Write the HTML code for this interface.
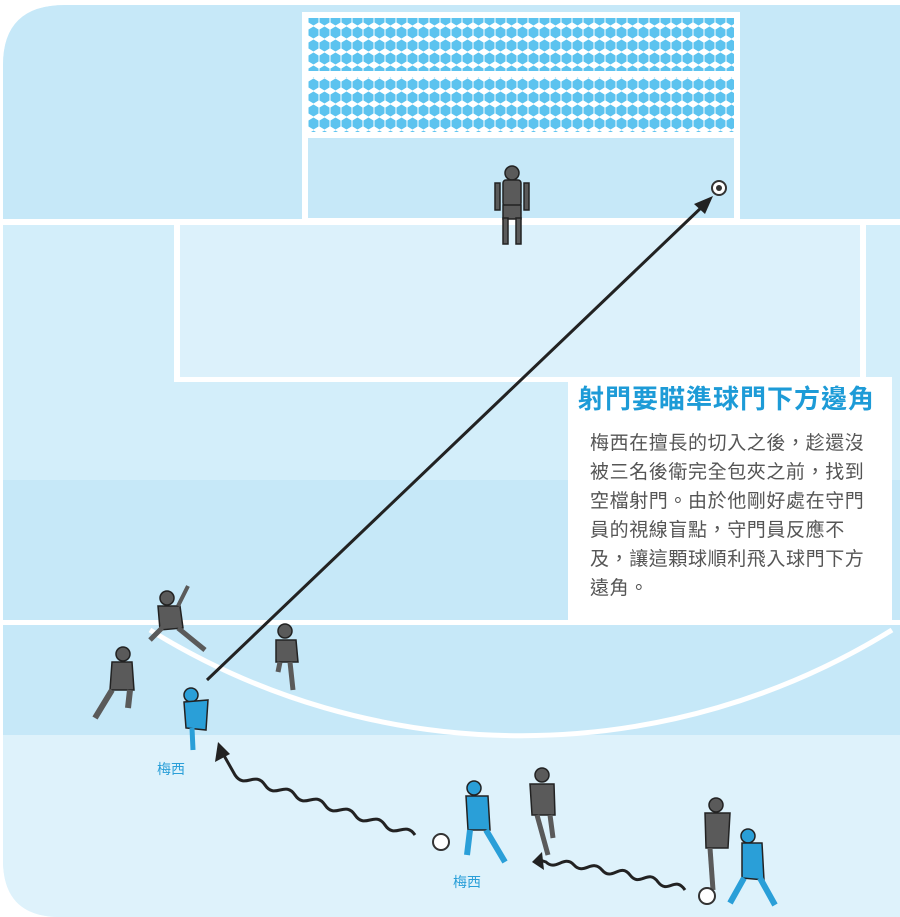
<!DOCTYPE html>
<html><head><meta charset="utf-8"><style>
html,body{margin:0;padding:0;background:#fff;}
svg{display:block;}
.t{font-family:"Liberation Sans","Noto Sans CJK TC",sans-serif;}
</style></head><body>
<svg width="900" height="917" viewBox="0 0 900 917" xmlns="http://www.w3.org/2000/svg">
<defs>
<pattern id="hex" width="11" height="13" patternUnits="userSpaceOnUse">
<rect width="11" height="13" fill="#ffffff"/>
<path d="M5.5 0.5 L10.5 3.5 L10.5 9.5 L5.5 12.5 L0.5 9.5 L0.5 3.5 Z" fill="#5cc3ef"/>
</pattern>
<clipPath id="field"><path d="M65 5 H900 V917 H60 Q3 917 3 860 V65 Q3 5 65 5 Z"/></clipPath>
</defs>
<g clip-path="url(#field)">
<rect x="0" y="0" width="900" height="917" fill="#def2fb"/>
<rect x="0" y="0" width="900" height="220" fill="#c6e8f8"/>
<rect x="0" y="225" width="900" height="255" fill="#d3eefa"/>
<rect x="0" y="480" width="900" height="142" fill="#c6e8f8"/>
<rect x="0" y="624" width="900" height="111" fill="#c6e8f8"/>
<rect x="0" y="735" width="900" height="182" fill="#def2fb"/>
<rect x="0" y="219" width="900" height="6" fill="#fff"/>
<rect x="174" y="222" width="692" height="160" fill="#fff"/>
<rect x="180" y="225" width="680" height="152" fill="#dcf1fb"/>
<rect x="0" y="620" width="900" height="5" fill="#fff"/>
<path d="M150 630 A704 704 0 0 0 892 630" fill="none" stroke="#fff" stroke-width="5"/>
</g>
<!-- goal -->
<rect x="302" y="12" width="438" height="210" fill="#fff"/>
<rect x="308" y="18" width="426" height="53" fill="url(#hex)"/>
<rect x="308" y="77" width="426" height="55" fill="url(#hex)"/>
<rect x="308" y="138" width="426" height="80" fill="#c6e8f8"/>
<!-- text box -->
<rect x="568" y="377" width="324" height="243" fill="#fff"/>
<text x="578" y="408" class="t" font-size="26" font-weight="bold" fill="#1d9bd7" letter-spacing="1">射門要瞄準球門下方邊角</text>
<g class="t" font-size="19" fill="#555" letter-spacing="0.6">
<text x="590" y="449">梅西在擅長的切入之後，趁還沒</text>
<text x="590" y="478">被三名後衛完全包夾之前，找到</text>
<text x="590" y="507">空檔射門。由於他剛好處在守門</text>
<text x="590" y="536">員的視線盲點，守門員反應不</text>
<text x="590" y="565">及，讓這顆球順利飛入球門下方</text>
<text x="590" y="594">遠角。</text>
</g>
<!-- shot line -->
<line x1="207" y1="680" x2="704" y2="205" stroke="#222" stroke-width="3"/>
<path d="M713 196 L694 204 L705 214 Z" fill="#222"/>
<circle cx="719" cy="188" r="7" fill="#fff" stroke="#333" stroke-width="2"/><circle cx="719" cy="188" r="3" fill="#333"/>
<!-- wavy arrows -->
<path d="M415 835 C405 820 395 840 385 825 C375 810 365 830 355 815 C345 800 335 820 325 805 C315 790 305 810 295 795 C285 780 275 800 265 785 C255 770 245 790 235 775 L222 752" fill="none" stroke="#222" stroke-width="3"/>
<path d="M218 742 L215 762 L230 754 Z" fill="#222"/>
<path d="M685 890 C675 875 668 895 658 882 C648 868 640 888 630 875 C620 862 612 882 602 870 C592 858 584 876 574 865 C564 854 556 872 546 862 L540 860" fill="none" stroke="#222" stroke-width="3"/>
<path d="M532 862 L542 852 L544 870 Z" fill="#222"/>
<!-- players (simplified) -->
<g fill="#5a5a5a" stroke="#222" stroke-width="1.5">
<circle cx="512" cy="173" r="7"/><rect x="503" y="180" width="18" height="26" rx="3"/><rect x="503" y="205" width="18" height="14"/><rect x="503" y="218" width="5" height="26"/><rect x="516" y="218" width="5" height="26"/><rect x="495" y="183" width="5" height="27"/><rect x="524" y="183" width="5" height="27"/>
<circle cx="167" cy="598" r="7"/><path d="M158 606 L180 606 L183 628 L160 630 Z"/><path d="M162 628 L150 640 M178 628 L205 650" stroke-width="5" fill="none" stroke="#5a5a5a"/><path d="M178 606 L188 586" stroke-width="4" stroke="#5a5a5a"/>
<circle cx="123" cy="654" r="7"/><path d="M112 662 L132 662 L134 690 L110 690 Z"/><path d="M112 690 L95 718 M130 690 L128 708" stroke-width="6" fill="none" stroke="#5a5a5a"/>
<circle cx="285" cy="631" r="7"/><path d="M276 640 L296 640 L298 662 L276 662 Z"/><path d="M290 662 L293 690 M280 662 L278 672" stroke-width="5" fill="none" stroke="#5a5a5a"/>
<circle cx="542" cy="775" r="7"/><path d="M530 784 L554 784 L555 815 L532 815 Z"/><path d="M537 815 L548 855 M550 815 L553 838" stroke-width="5" fill="none" stroke="#5a5a5a"/>
<circle cx="716" cy="805" r="7"/><path d="M705 813 L730 813 L728 848 L706 848 Z"/><path d="M710 848 L713 890" stroke-width="5" fill="none" stroke="#5a5a5a"/>
</g>
<g fill="#2a9fd8" stroke="#222" stroke-width="1.5">
<circle cx="191" cy="695" r="7"/><path d="M184 702 L208 700 L206 730 L186 728 Z"/><path d="M192 728 L193 750" stroke-width="5" stroke="#2a9fd8" fill="none"/>
<circle cx="474" cy="788" r="7"/><path d="M466 796 L488 796 L490 830 L468 830 Z"/><path d="M470 830 L467 855 M486 830 L505 862" stroke-width="6" stroke="#2a9fd8" fill="none"/>
<circle cx="748" cy="836" r="7"/><path d="M742 843 L762 843 L764 880 L742 878 Z"/><path d="M744 878 L730 903 M760 878 L775 905" stroke-width="6" stroke="#2a9fd8" fill="none"/>
</g>
<g fill="#fff" stroke="#333" stroke-width="2">
<circle cx="441" cy="842" r="8"/><circle cx="707" cy="896" r="8"/>
</g>
<text x="157" y="774" class="t" font-size="14" fill="#2a9fd8">梅西</text>
<text x="453" y="887" class="t" font-size="14" fill="#2a9fd8">梅西</text>
</svg>
</body></html>
